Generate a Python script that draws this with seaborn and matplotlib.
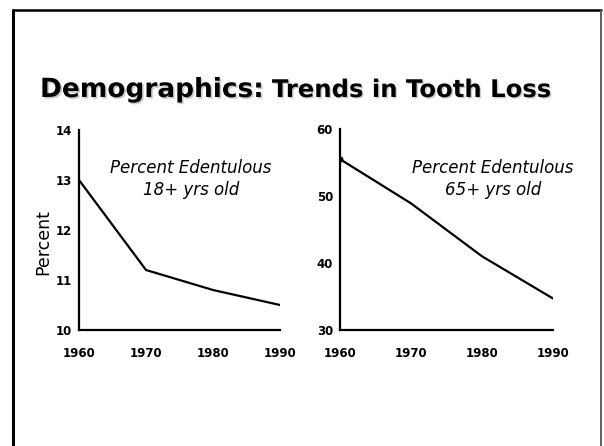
import matplotlib
matplotlib.use("Agg")
import matplotlib.pyplot as plt
import matplotlib.patheffects as pe
from matplotlib.lines import Line2D
import seaborn as sns
import pandas as pd

years = [1960, 1970, 1980, 1990]
edentulous_18 = [13.0, 11.2, 10.8, 10.5]
edentulous_65 = [55.5, 48.9, 41.0, 34.7]
year_ticks = [1960, 1970, 1980, 1990]
left_yticks = [10, 11, 12, 13, 14]
right_yticks = [30, 40, 50, 60]

sns.set_style("white")
plt.rcParams['font.family'] = ['DejaVu Sans']
plt.rcParams['text.color'] = 'black'
plt.rcParams['xtick.color'] = 'black'
plt.rcParams['ytick.color'] = 'black'
plt.rcParams['axes.labelcolor'] = 'black'

W, H = 604, 446
fig = plt.figure(figsize=(W / 100, H / 100), dpi=100)

def fx(px):
    return px / W

def fy(py):
    return 1 - py / H

ax1 = fig.add_axes([fx(79), fy(330), fx(280) - fx(79), fy(130) - fy(330)])
ax2 = fig.add_axes([fx(340), fy(330), fx(553) - fx(340), fy(129) - fy(330)])

df1 = pd.DataFrame({"year": years, "pct": edentulous_18})
df2 = pd.DataFrame({"year": years, "pct": edentulous_65})

sns.lineplot(data=df1, x="year", y="pct", ax=ax1, color="black", linewidth=1.6)
sns.lineplot(data=df2, x="year", y="pct", ax=ax2, color="black", linewidth=1.6,
             marker="o", markevery=[0], markersize=3.5, markeredgecolor="black")

for ax, yt, ylim in [(ax1, left_yticks, (10, 14)), (ax2, right_yticks, (30, 60))]:
    ax.set_xlim(1960, 1990)
    ax.set_ylim(*ylim)
    ax.set_xticks(year_ticks)
    ax.set_yticks(yt)
    ax.set_xticklabels([str(y) for y in year_ticks], fontweight="bold", fontsize=8.5, color="black")
    ax.set_yticklabels([str(v) for v in yt], fontweight="bold", fontsize=8.5, color="black")
    ax.tick_params(axis="x", length=0, pad=12)
    ax.tick_params(axis="y", length=0, pad=5)
    for s in ["top", "right"]:
        ax.spines[s].set_visible(False)
    for s in ["left", "bottom"]:
        ax.spines[s].set_color("black")
        ax.spines[s].set_linewidth(1.6)
    ax.set_xlabel("")
    ax.set_ylabel("")
    ax.patch.set_alpha(0)

ax1.text(0.557, 0.755, "Percent Edentulous\n18+ yrs old", transform=ax1.transAxes,
         ha="center", va="center", fontsize=12, fontstyle="italic", linespacing=1.3, color="black")
ax2.text(0.718, 0.75, "Percent Edentulous\n65+ yrs old", transform=ax2.transAxes,
         ha="center", va="center", fontsize=12, fontstyle="italic", linespacing=1.3, color="black")

fig.text(fx(43), fy(242), "Percent", rotation=90, ha="center", va="center", fontsize=12.5, color="black")

t1 = fig.text(fx(40), fy(97), "Demographics:", ha="left", va="baseline",
              fontsize=19, fontweight="bold", color="black")
t1.set_path_effects([pe.SimplePatchShadow(offset=(1.2, -1.2), shadow_rgbFace="#999999", alpha=0.5), pe.Normal()])
fig.canvas.draw()
bb = t1.get_window_extent()
t2 = fig.text(fx(bb.x1 + 8), fy(97), "Trends in Tooth Loss", ha="left", va="baseline",
              fontsize=17.5, fontweight="bold", color="black")
t2.set_path_effects([pe.SimplePatchShadow(offset=(1.0, -1.0), shadow_rgbFace="#999999", alpha=0.5), pe.Normal()])

# slide frame
fig.add_artist(Line2D([fx(12.5), fx(12.5)], [fy(10.3), 0], transform=fig.transFigure, color="black", linewidth=2.2))
fig.add_artist(Line2D([fx(12.5), fx(601)], [fy(10.3), fy(10.3)], transform=fig.transFigure, color="black", linewidth=1.8))
fig.add_artist(Line2D([fx(600.5), fx(600.5)], [fy(10.3), 0], transform=fig.transFigure, color="#555555", linewidth=1.3))

fig.savefig("out.png", dpi=100, facecolor="white")
